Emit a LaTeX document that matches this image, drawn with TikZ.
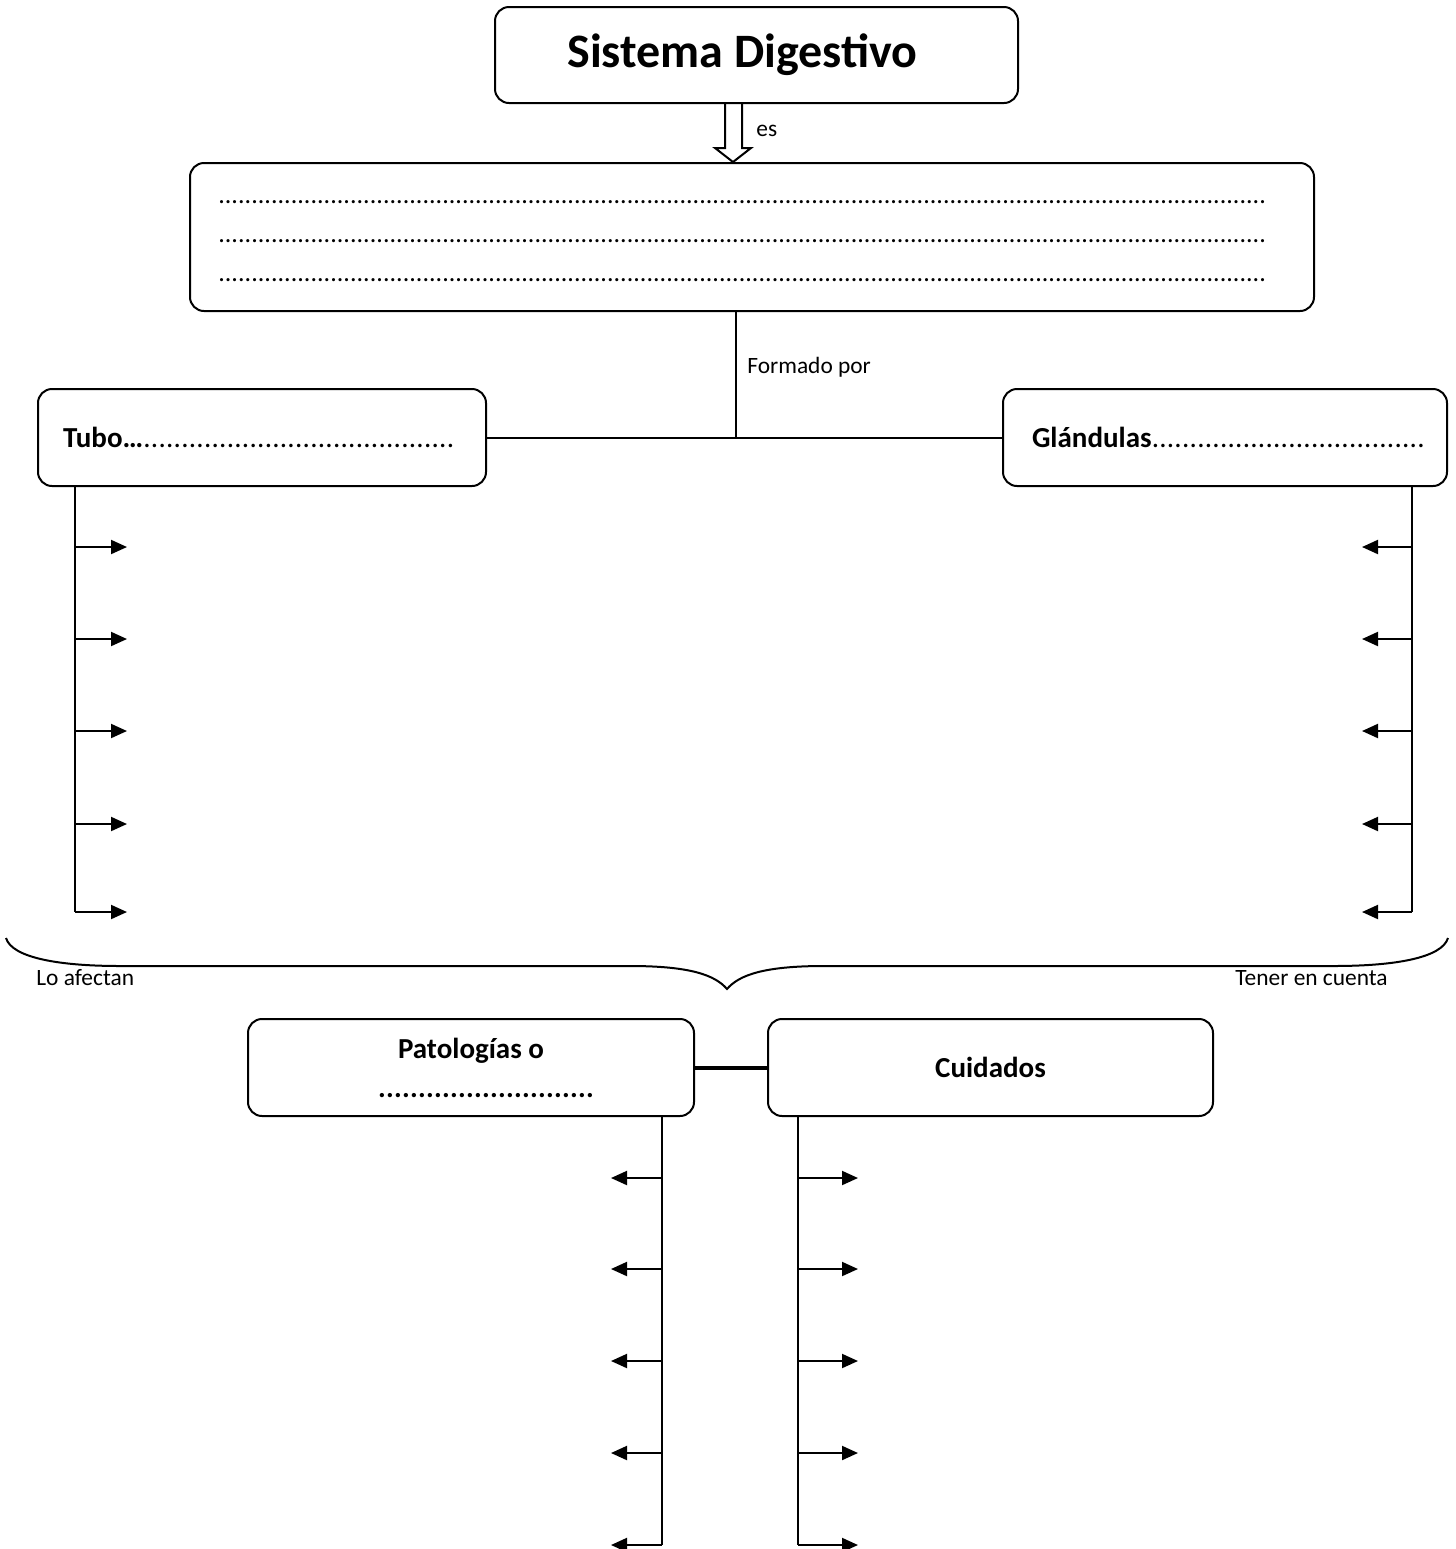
\documentclass[tikz,border=0pt]{standalone}
\usepackage{fontspec}
\setmainfont{Carlito}
\usetikzlibrary{arrows.meta}
\tikzset {
    round box/.style = {draw, line width = 1pt, rounded corners = 7pt, inner sep = 0pt},
    stem/.style = {line width = 1pt},
    thick link/.style = {line width = 2pt},
    branch/.style = {line width = 1pt, -{Triangle[length = 8pt, width = 7pt]}},
    hollow arrow/.style = {line width = 1pt, line join = miter},
    small text/.style = {font = \fontsize{11.7}{14}\selectfont, inner sep = 0pt},
    box text/.style = {font = \fontsize{14.5}{19.5}\selectfont\bfseries},
}
\newcount\dotcount
\newcommand\dotrun[2]{\dotcount=0
    \loop\ifnum\dotcount<#2 \hbox to #1{\hss.\hss}\advance\dotcount by 1 \repeat}

\begin{document}
\begin{tikzpicture}[x = 0.5pt, y = -0.5pt]
    \useasboundingbox (0,0) rectangle (1456,1549);
    % boxes
    \node (title) [round box, minimum width = 261.5pt, minimum height = 48pt,
        font = \fontsize{24}{28}\selectfont\bfseries] at (756.5,55) {Sistema Digestivo\kern14pt};
    \node (defbox) [round box, minimum width = 562pt, minimum height = 74pt] at (752,237) {};
    \node (deflines) [align = center, inner sep = 0pt,
        font = \fontsize{13}{19.5}\selectfont] at (743,241)
        {\dotrun{3.3pt}{159}\\\dotrun{3.3pt}{159}\\\dotrun{3.3pt}{159}};
    \node (tubo) [round box, minimum height = 48.5pt, text width = 199pt,
        inner xsep = 12.5pt, align = left, font = \fontsize{14.5}{19.5}\selectfont]
        at (262,437.5) {\textbf{Tubo…}\dotrun{3.8pt}{41}};
    \node (glandulas) [round box, minimum height = 48.5pt, text width = 193pt,
        inner xsep = 14.5pt, align = left, font = \fontsize{14.5}{19.5}\selectfont]
        at (1225,437.5) {\textbf{Glándulas}\rlap{\dotrun{3.8pt}{36}}};
    \node (patologias) [round box, box text, minimum width = 223pt, minimum height = 48.5pt,
        align = center] at (471,1067.5) {Patologías o\\\kern15pt\dotrun{4pt}{27}};
    \node (cuidados) [round box, box text, minimum width = 222.5pt, minimum height = 48.5pt]
        at (990.5,1067.5) {Cuidados};

    % es
    \draw [hollow arrow] (title.south -| 725,0) -- (725,148) -- (715,148)
        -- (defbox.north -| 733,0) -- (751,148) -- (742,148) -- (title.south -| 742,0);
    \node (es) [small text, anchor = base west] at (756,136) {es};

    % formado por
    \coordinate (fork) at (736,437.5);
    \draw [stem] (tubo.east) -- (glandulas.west);
    \draw [stem] (defbox.south -| fork) -- (fork);
    \node (formado) [small text, anchor = base west] at (747,373) {Formado por};

    % branches
    \coordinate (tfoot) at (75,912);
    \coordinate (gfoot) at (1412,912);
    \draw [stem] (tubo.south -| tfoot) -- (tfoot);
    \draw [stem] (glandulas.south -| gfoot) -- (gfoot);
    \foreach \i/\y in {1/547, 2/639, 3/731, 4/824, 5/912} {
        \coordinate (tb\i) at (127,\y);
        \coordinate (gb\i) at (1362,\y);
        \draw [branch] (tb\i -| tfoot) -- (tb\i);
        \draw [branch] (gb\i -| gfoot) -- (gb\i);
    }

    % brace
    \draw [stem] (6,938) .. controls (12,958) and (60,966) .. (120,966) -- (630,966)
        .. controls (690,966) and (715,975) .. (727,989)
        .. controls (739,975) and (764,966) .. (824,966) -- (1334,966)
        .. controls (1394,966) and (1442,958) .. (1448,938);
    \node (afectan) [small text, anchor = base west] at (36,985) {Lo afectan};
    \node (cuenta) [small text, anchor = base west] at (1235,985) {Tener en cuenta};

    % patologias y cuidados
    \draw [thick link] (patologias.east) -- (cuidados.west);
    \coordinate (pfoot) at (662,1545);
    \coordinate (cfoot) at (798,1545);
    \draw [stem] (patologias.south -| pfoot) -- (pfoot);
    \draw [stem] (cuidados.south -| cfoot) -- (cfoot);
    \foreach \i/\y in {1/1178, 2/1269, 3/1361, 4/1453, 5/1545} {
        \coordinate (pb\i) at (611,\y);
        \coordinate (cb\i) at (858,\y);
        \draw [branch] (pb\i -| pfoot) -- (pb\i);
        \draw [branch] (cb\i -| cfoot) -- (cb\i);
    }
\end{tikzpicture}
\end{document}
